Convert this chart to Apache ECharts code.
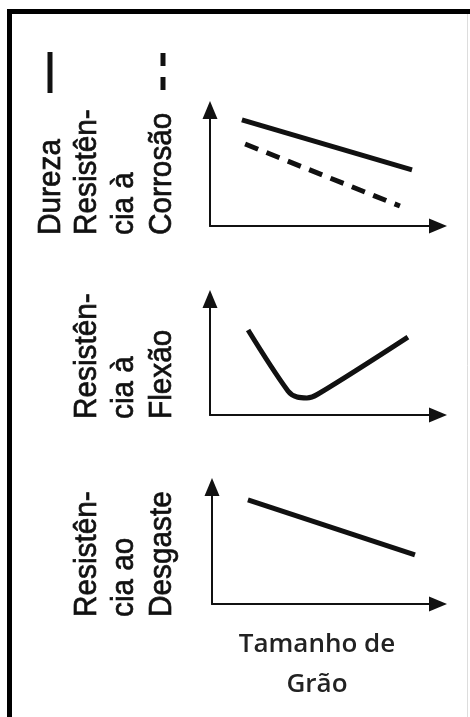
<!DOCTYPE html>
<html>
<head>
<meta charset="utf-8">
<style>
html,body{margin:0;padding:0;background:#fff;}
#c{width:470px;height:717px;}
</style>
<script src="https://cdn.jsdelivr.net/npm/echarts@6/dist/echarts.min.js"></script>
</head>
<body>
<div id="c"></div>
<script>
// ---- data (relative units) ----
const xDureza = [14, 88.6];
const dureza = [91.4, 48.3];
const xCorrosao = [15.4, 83.3];
const corrosao = [70.7, 17.2];
const xFlexao = [16.7, 34.2, 38.2, 42.5, 47.4, 86.8];
const flexao = [73.3, 20.7, 15.5, 14.7, 18.1, 67.2];
const xDesgaste = [15.9, 89.8];
const desgaste = [88.9, 41.9];

const labels1 = ['Dureza', 'Resistên-', 'cia à', 'Corrosão'];
const labels2 = ['Resistên-', 'cia à', 'Flexão'];
const labels3 = ['Resistên-', 'cia ao', 'Desgaste'];
const xTitle = ['Tamanho de', 'Grão'];

function pairs(xs, ys){ return xs.map((x,i)=>[x, ys[i]]); }

const ink = '#111';
const grids = [
  {left:210, top:110, width:228, height:116},
  {left:210, top:299, width:228, height:116},
  {left:212, top:487, width:226, height:117}
];
function axisLine(){
  return {show:true, onZero:false, symbol:['none','triangle'], symbolSize:[15,18], lineStyle:{color:ink, width:2}};
}
const xAxes = grids.map((g,i)=>({type:'value', gridIndex:i, min:0, max:100, position:'bottom',
  axisLine:axisLine(), axisTick:{show:false}, axisLabel:{show:false}, splitLine:{show:false}}));
const yAxes = grids.map((g,i)=>({type:'value', gridIndex:i, min:0, max:100, position:'left',
  axisLine:axisLine(), axisTick:{show:false}, axisLabel:{show:false}, splitLine:{show:false}}));

function lineSeries(name, idx, data, extra){
  return Object.assign({name:name, type:'line', xAxisIndex:idx, yAxisIndex:idx, data:data,
    showSymbol:false, symbol:'none', silent:true, animation:false,
    lineStyle:{color:ink, width:5, cap:'butt', join:'round'}}, extra||{});
}

const series = [
  lineSeries('Dureza', 0, pairs(xDureza, dureza)),
  lineSeries('Corrosão', 0, pairs(xCorrosao, corrosao), {lineStyle:{color:ink, width:5, type:[14,9], cap:'butt'}}),
  lineSeries('Flexão', 1, pairs(xFlexao, flexao), {smooth:0.35}),
  lineSeries('Desgaste', 2, pairs(xDesgaste, desgaste))
];

const labFont = {fontFamily:'Liberation Sans', fontSize:32, fill:'#111', stroke:'#111', lineWidth:0.7};
function vText(str, x, y){
  return {type:'text', x:x, y:y, rotation:Math.PI/2, scaleX:0.93, scaleY:1,
    style:Object.assign({text:str, align:'left', verticalAlign:'middle'}, labFont)};
}
const cols = [51, 87, 124, 162];
const graphic = [];
labels1.forEach((t,i)=>graphic.push(vText(t, cols[i], 235)));
labels2.forEach((t,i)=>graphic.push(vText(t, cols[i+1], 419)));
labels3.forEach((t,i)=>graphic.push(vText(t, cols[i+1], 617)));
// legend keys
graphic.push({type:'line', shape:{x1:50,y1:52,x2:50,y2:93}, style:{stroke:ink, lineWidth:5}});
graphic.push({type:'line', shape:{x1:163,y1:53,x2:163,y2:66}, style:{stroke:ink, lineWidth:5}});
graphic.push({type:'line', shape:{x1:163,y1:77,x2:163,y2:90}, style:{stroke:ink, lineWidth:5}});
// x title
graphic.push({type:'text', x:317, y:645, style:{text:xTitle[0], align:'center', verticalAlign:'middle', fontFamily:'Open Sans', fontWeight:600, fontSize:26, fill:'#222'}});
graphic.push({type:'text', x:317, y:685, style:{text:xTitle[1], align:'center', verticalAlign:'middle', fontFamily:'Open Sans', fontWeight:600, fontSize:26, fill:'#222'}});
// frame
graphic.push({type:'line', shape:{x1:9.5,y1:11.5,x2:470,y2:11.5}, style:{stroke:'#000', lineWidth:5}});
graphic.push({type:'line', shape:{x1:9.5,y1:9,x2:9.5,y2:717}, style:{stroke:'#000', lineWidth:5}});
graphic.push({type:'line', shape:{x1:467.5,y1:14,x2:467.5,y2:717}, style:{stroke:'#ddd', lineWidth:1}});

const chart = echarts.init(document.getElementById('c'), null, {renderer:'canvas'});
chart.setOption({
  animation:false,
  backgroundColor:'#fff',
  grid:grids,
  xAxis:xAxes,
  yAxis:yAxes,
  series:series,
  graphic:graphic
});
</script>
</body>
</html>
